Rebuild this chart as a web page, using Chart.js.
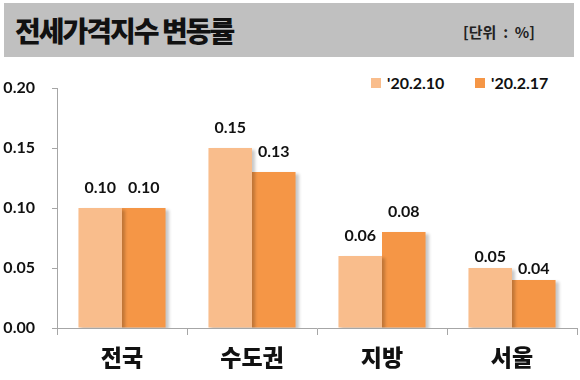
<!DOCTYPE html>
<html>
<head>
<meta charset="utf-8">
<script src="https://cdn.jsdelivr.net/npm/chart.js@4/dist/chart.umd.min.js"></script>
<style>
  html, body { margin: 0; padding: 0; background: #fff; }
  #wrap { position: relative; width: 580px; height: 380px; overflow: hidden; }
  #titlebar { position: absolute; left: 4px; top: 3px; width: 570px; height: 54px; background: #c0c0c0; }
  #title { position: absolute; left: 15px; top: 30px; transform: translateY(-50%); font-family: "Noto Sans CJK KR"; font-weight: 900; font-size: 28px; letter-spacing: -2px; color: #111; line-height: 1; white-space: nowrap; }
  #unit { position: absolute; right: 45px; top: 31px; transform: translateY(-50%); font-family: "Noto Sans CJK KR"; font-weight: 700; font-size: 15px; color: #222; line-height: 1; white-space: pre; }
  #legend { position: absolute; top: 75px; left: 371px; height: 16px; font-family: Lato, "Noto Sans"; font-weight: 700; font-size: 16px; color: #111; white-space: nowrap; }
  .li { position: absolute; top: 0; display: flex; align-items: center; line-height: 16px; }
  .sw { width: 10px; height: 10px; margin-right: 6px; }
  canvas { position: absolute; left: 0; top: 0; }
</style>
</head>
<body>
<div id="wrap">
  <div id="titlebar"></div>
  <div id="title">전세가격지수 변동률</div>
  <div id="unit">[단위  :  %]</div>
  <div id="legend"></div>
  <canvas id="c" width="580" height="380"></canvas>
</div>
<script>
// ---- data ----
const categories = ['전국', '수도권', '지방', '서울'];
const seriesNames = ["'20.2.10", "'20.2.17"];
const seriesA = [0.10, 0.15, 0.06, 0.05];
const seriesB = [0.10, 0.13, 0.08, 0.04];
const yMin = 0, yMax = 0.20, yStep = 0.05;

// ---- style ----
const colors = ['#F9BD8C', '#F59646'];
const labelGap = [20, 20, 20, 11];
const numFont = 'Lato, "Noto Sans", sans-serif';

// legend (HTML)
const legendLefts = [0, 104];
const legend = document.getElementById('legend');
seriesNames.forEach((n, i) => {
  const d = document.createElement('div');
  d.className = 'li';
  d.style.left = legendLefts[i] + 'px';
  const s = document.createElement('span');
  s.className = 'sw';
  s.style.background = colors[i];
  d.appendChild(s);
  d.appendChild(document.createTextNode(n));
  legend.appendChild(d);
});

const shadowPlugin = {
  id: 'barShadow',
  beforeDatasetsDraw(chart) {
    const ctx = chart.ctx;
    ctx.save();
    ctx.shadowColor = 'rgba(0,0,0,0.22)';
    ctx.shadowOffsetX = 3;
    ctx.shadowOffsetY = 2;
    ctx.shadowBlur = 3;
  },
  afterDatasetsDraw(chart) {
    chart.ctx.restore();
  }
};

const valueLabels = {
  id: 'valueLabels',
  afterDatasetsDraw(chart) {
    const ctx = chart.ctx;
    ctx.save();
    ctx.shadowColor = 'transparent';
    ctx.font = 'bold 16px ' + numFont;
    ctx.fillStyle = '#111';
    ctx.textAlign = 'center';
    ctx.textBaseline = 'middle';
    chart.data.datasets.forEach((ds, di) => {
      const meta = chart.getDatasetMeta(di);
      meta.data.forEach((bar, i) => {
        ctx.fillText(ds.data[i].toFixed(2), bar.x, bar.y - labelGap[i]);
      });
    });
    ctx.restore();
  }
};

new Chart(document.getElementById('c'), {
  type: 'bar',
  data: {
    labels: categories,
    datasets: [
      { label: seriesNames[0], data: seriesA, backgroundColor: colors[0] },
      { label: seriesNames[1], data: seriesB, backgroundColor: colors[1] }
    ]
  },
  options: {
    responsive: false,
    animation: false,
    devicePixelRatio: 1,
    layout: { padding: { top: 88, right: 3, bottom: 0, left: 0 } },
    datasets: { bar: { categoryPercentage: 0.67, barPercentage: 1.0 } },
    plugins: { legend: { display: false }, title: { display: false }, tooltip: { enabled: false } },
    scales: {
      x: {
        afterFit(s) { s.height = 52; },
        grid: { offset: true, drawOnChartArea: false, drawTicks: true, tickLength: 7, color: '#a6a6a6' },
        border: { display: true, color: '#a6a6a6' },
        ticks: { padding: 8, color: '#111', font: { family: '"Noto Sans CJK KR"', size: 23, weight: '900' } }
      },
      y: {
        min: yMin, max: yMax,
        afterFit(s) { s.width = 57; },
        grid: { drawOnChartArea: false, drawTicks: true, tickLength: 5, color: '#a6a6a6' },
        border: { display: true, color: '#a6a6a6' },
        ticks: {
          stepSize: yStep, padding: 17, color: '#111',
          font: { family: numFont, size: 16, weight: 'bold' },
          callback: v => Number(v).toFixed(2)
        }
      }
    }
  },
  plugins: [shadowPlugin, valueLabels]
});
</script>
</body>
</html>
